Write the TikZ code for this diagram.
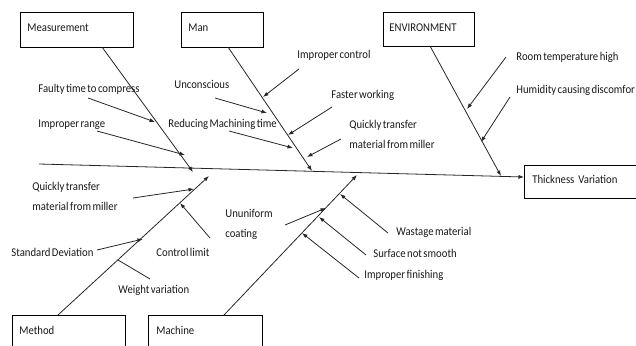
\documentclass[tikz,border=0pt]{standalone}
\usepackage{fontspec}
\setmainfont[FakeStretch=0.9, WordSpace=0.6]{Carlito}
\usetikzlibrary{arrows.meta}
\begin{document}
\begin{tikzpicture}[x=1pt,y=-1pt, line width=0.8pt,
  lbl/.style={anchor=base west, inner sep=0pt, font=\fontsize{11.9}{19.5}\selectfont, align=left, text=black!90},
  cbox/.style={draw, anchor=north west, inner xsep=7pt, inner ysep=0pt, text height=19pt, align=left, text=black!90, font=\fontsize{11.9}{14}\selectfont},
  arr/.style={-{Latex[length=5.5pt,width=4pt]}},
  bone/.style={draw=black!85},
]
\clip (0,0) rectangle (636,345);
% category boxes
\node[cbox, text width=99pt, text depth=16pt] (meas) at (20,12) {Measurement};
\node[cbox, text width=68pt, text depth=16pt] (man) at (181,12) {Man};
\node[cbox, inner xsep=6pt, text width=79pt, text depth=15pt] (env) at (383,12) {ENVIRONMENT};
\node[cbox, inner xsep=8pt, text width=100pt, text depth=15pt, text height=18pt] (eff) at (524,165) {Thickness Variation};
\node[cbox, text width=99pt, text depth=16pt] (meth) at (12,315) {Method};
\node[cbox, inner xsep=8pt, text width=98pt, text depth=16pt] (mach) at (148,315) {Machine};

% coordinates
\coordinate (sp0) at (39,164);
\coordinate (measA) at (102,47);  \coordinate (measB) at (193,172);
\coordinate (manA) at (228,47);   \coordinate (manB) at (312,171);
\coordinate (envA) at (430,46);   \coordinate (envB) at (501,176);
\coordinate (methA) at (58,315);  \coordinate (methB) at (209,176);
\coordinate (machA) at (224,315); \coordinate (machB) at (357,175);

% spine and bones
\draw[bone, arr] (sp0) -- (eff.west |- 0,177);
\draw[bone, arr] (measA) -- (measB);
\draw[bone, arr] (manA) -- (manB);
\draw[bone, arr] (envA) -- (envB);
\draw[bone, arr] (methA) -- (methB);
\draw[bone, arr] (machA) -- (machB);

% labels
\node[lbl] (m1) at (38,92) {Faulty time to compress};
\node[lbl] (m2) at (38,127) {Improper range};
\node[lbl] (a1) at (297,58) {Improper control};
\node[lbl] (a2) at (174,88) {Unconscious};
\node[lbl] (a3) at (331,98) {Faster working};
\node[lbl] (a4) at (168,127) {Reducing Machining time};
\node[lbl] (a5) at (349,148) {Quickly transfer\\material from miller};
\node[lbl] (e1) at (516,60) {Room temperature high};
\node[lbl] (e2) at (516,93) {Humidity causing discomfor};
\node[lbl] (t1) at (32,210) {Quickly transfer\\material from miller};
\node[lbl] (t2) at (11,256) {Standard Deviation};
\node[lbl] (t3) at (156,256) {Control limit};
\node[lbl] (t4) at (118,293) {Weight variation};
\node[lbl] (c1) at (225,237) {Ununiform\\coating};
\node[lbl] (c2) at (396,235) {Wastage material};
\node[lbl] (c3) at (373,257) {Surface not smooth};
\node[lbl] (c4) at (364,278) {Improper finishing};

% sub-cause arrows
\coordinate (m1s) at (88,98);   \coordinate (m1e) at (155,122);
\coordinate (m2s) at (97,131);  \coordinate (m2e) at (185,155);
\coordinate (a1s) at (299,69);  \coordinate (a1e) at (263,97);
\coordinate (a2s) at (215,98);  \coordinate (a2e) at (267,113);
\coordinate (a3s) at (332,107); \coordinate (a3e) at (288,135);
\coordinate (a4s) at (229,131); \coordinate (a4e) at (293,148);
\coordinate (a5s) at (341,139); \coordinate (a5e) at (307,157);
\coordinate (e1s) at (506,57);  \coordinate (e1e) at (467,109);
\coordinate (e2s) at (510,97);  \coordinate (e2e) at (481,142);
\coordinate (t1s) at (133,198); \coordinate (t1e) at (194,189);
\coordinate (t2s) at (97,250);  \coordinate (t2e) at (143,239);
\coordinate (t3s) at (210,238); \coordinate (t3e) at (180,203);
\coordinate (t4s) at (150,279); \coordinate (t4e) at (118,260);
\coordinate (c1s) at (285,225); \coordinate (c1e) at (326,208);
\coordinate (c2s) at (388,233); \coordinate (c2e) at (340,194);
\coordinate (c3s) at (366,255); \coordinate (c3e) at (319,217);
\coordinate (c4s) at (359,278); \coordinate (c4e) at (302,233);

\foreach \k in {m1,m2,a1,a2,a3,a4,a5,e1,e2,t1,t2,t3,c1,c2,c3,c4}
  \draw[bone, arr] (\k s) -- (\k e);
\draw[bone] (t4s) -- (t4e);
\end{tikzpicture}
\end{document}
